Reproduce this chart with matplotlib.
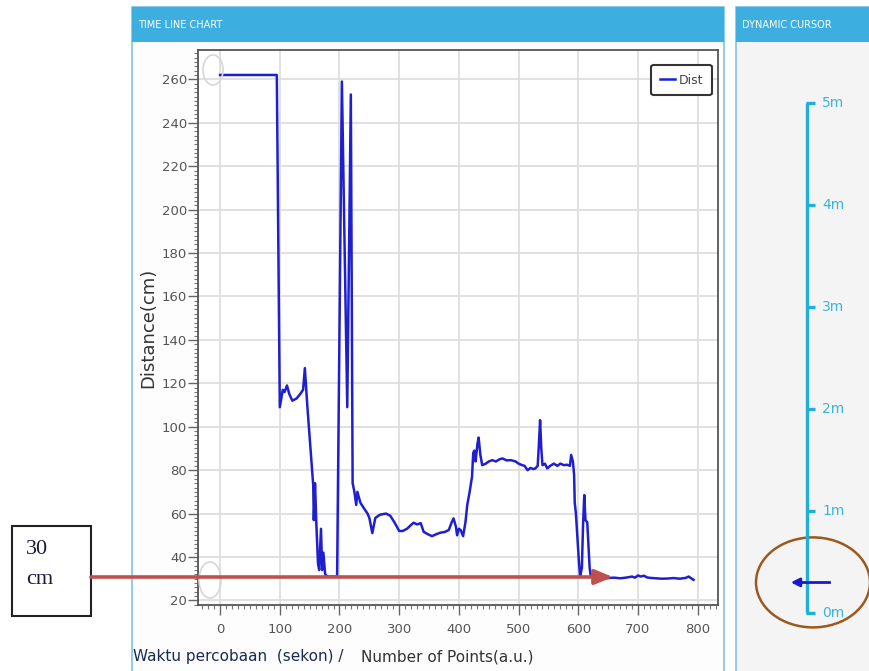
import numpy as np
import matplotlib
matplotlib.use('Agg')
import matplotlib.pyplot as plt
from matplotlib.patches import Rectangle, Ellipse
from matplotlib.ticker import MultipleLocator

## readings (point index, distance in cm)
x_points = [0, 95, 100, 105, 108, 112, 116, 121, 128, 134, 139, 142, 146, 150, 154,
            156, 157, 159, 161, 164, 166, 169, 171, 173, 176, 180, 190, 196,
            204, 213, 219, 222, 225, 228, 230, 235, 242, 247, 250, 255, 260, 268,
            278, 285, 292, 300, 306, 313, 319, 324, 330, 336, 341, 348, 355, 362,
            369, 376, 383, 388, 391, 395, 397, 400, 403, 407, 411, 414, 418, 422,
            424, 426, 428, 431, 433, 436, 439, 445, 450, 456, 462, 468, 473, 480,
            487, 495, 500, 506, 510, 515, 520, 525, 528, 532, 534, 536, 538, 540,
            544, 548, 553, 559, 565, 570, 576, 581, 586, 588, 591, 593, 594, 596,
            598, 601, 603, 606, 608, 610, 612, 615, 617, 619, 621, 630, 640, 650,
            660, 670, 680, 690, 695, 700, 705, 710, 715, 720, 730, 740, 750, 760,
            770, 780, 785, 790, 793]
dist = [262, 262, 109, 117, 116, 119, 115, 112, 113, 115, 117, 127, 110, 95, 80,
        73, 57, 74, 57, 37, 34, 53, 34, 42, 32, 31, 31, 31,
        259, 109, 253, 74, 70, 64, 70, 65, 62, 60, 58, 51, 58, 59.5,
        60, 59, 56, 52, 52, 53, 54.5, 55.8, 55, 55.6, 51.6, 50.5, 49.6, 50.5,
        51.2, 51.5, 52.4, 56, 57.8, 54, 50, 53, 52.4, 49.6, 56, 64, 70, 77,
        88, 89, 84, 92, 95, 87, 82.3, 83, 84, 84.6, 84, 85, 85.4, 84.5,
        84.6, 84, 83, 82.3, 82, 80, 81, 80.5, 80.8, 82, 92, 103, 90, 82.3,
        83, 80.8, 82, 83, 82, 83, 82.3, 82.5, 82, 87, 84, 77.7, 65, 60,
        51, 38, 31, 35, 55, 68.5, 57, 56, 45, 35, 31, 30, 30, 30.3,
        30.5, 30.2, 30.5, 31, 30.5, 31.5, 31, 31.4, 30.6, 30.4, 30.2, 30, 30.1, 30.3,
        30, 30.4, 31, 30, 29.5]

x_ticks = [0, 100, 200, 300, 400, 500, 600, 700, 800]
y_ticks = [20, 40, 60, 80, 100, 120, 140, 160, 180, 200, 220, 240, 260]

cursor_ticks = [0, 1, 2, 3, 4, 5]
cursor_labels = ["0m", "1m", "2m", "3m", "4m", "5m"]
cursor_value = 0.30   # m

linecolor = "#1f1fd0"
panelblue = "#3daee0"
cyan = "#1fb0d8"

W, H = 869, 671
fig = plt.figure(figsize=(W / 100, H / 100), dpi=100)
fig.patch.set_facecolor("white")

def px(x0, y0, x1, y1):
    # image pixel box -> figure fraction rect
    return [x0 / W, 1 - y1 / H, (x1 - x0) / W, (y1 - y0) / H]

############ panels (background) ############
bg = fig.add_axes([0, 0, 1, 1], zorder=0)
bg.set_xlim(0, W)
bg.set_ylim(H, 0)
bg.axis("off")
# left panel
bg.add_patch(Rectangle((132, 7), 592, 700, facecolor="#fdfdfd", edgecolor="#7cc4e8", lw=1.2))
bg.add_patch(Rectangle((132, 7), 592, 35, facecolor=panelblue, edgecolor="none"))
bg.text(138, 25, "TIME LINE CHART", color="white", fontsize=7, va="center", ha="left")
# right panel
bg.add_patch(Rectangle((736, 7), 140, 700, facecolor="#f4f4f4", edgecolor="#7cc4e8", lw=1.2))
bg.add_patch(Rectangle((736, 7), 140, 35, facecolor=panelblue, edgecolor="none"))
bg.text(742, 25, "DYNAMIC CURSOR", color="white", fontsize=7, va="center", ha="left")

############ time line chart ############
ax = fig.add_axes(px(198, 50, 718, 605), zorder=1)
ax.set_facecolor("white")
ax.plot(x_points, dist, color=linecolor, lw=1.8, label="Dist")
ax.set_xlim(-37, 834)
ax.set_ylim(17.9, 273.5)
ax.set_xticks(x_ticks)
ax.set_yticks(y_ticks)
ax.xaxis.set_minor_locator(MultipleLocator(10))
ax.yaxis.set_minor_locator(MultipleLocator(2))
ax.grid(True, which="major", color="#dedede", lw=1.3)
ax.set_axisbelow(True)
ax.tick_params(which="major", direction="out", length=7, width=1, color="#666666",
               labelsize=9.5, labelcolor="#555555")
ax.tick_params(which="minor", direction="out", length=3, width=0.8, color="#777777")
ax.tick_params(axis="y", pad=1)
ax.tick_params(axis="x", pad=6)
for s in ax.spines.values():
    s.set_color("#555555")
    s.set_linewidth(1.3)
ax.set_ylabel("Distance(cm)", fontsize=13, color="#333333", labelpad=3)
leg = ax.legend(loc="upper right", bbox_to_anchor=(0.988, 0.973), borderaxespad=0,
                fontsize=9, handlelength=1.2, handletextpad=0.3, borderpad=0.7,
                fancybox=True, framealpha=1, labelcolor="#444444")
leg.get_frame().set_edgecolor("#333333")
leg.get_frame().set_linewidth(1.5)

fig.text(133 / W, 1 - 657 / H, "Waktu percobaan  (sekon) /", fontsize=11,
         color="#1b2a55", ha="left", va="center")
fig.text(361 / W, 1 - 657 / H, "Number of Points(a.u.)", fontsize=11,
         color="#333333", ha="left", va="center")

############ dynamic cursor ############
cx = fig.add_axes(px(736, 42, 869, 671), zorder=1)
cx.set_facecolor("none")
cx.axis("off")
cx.set_xlim(736, 869)
cx.set_ylim(-(671 - 613) / 102, 5 + (103 - 42) / 102)
cx.plot([807, 807], [cursor_ticks[0], cursor_ticks[-1]], color=cyan, lw=2.4, solid_capstyle="butt")
for t, lab in zip(cursor_ticks, cursor_labels):
    cx.plot([806, 815], [t, t], color=cyan, lw=2.4, solid_capstyle="butt")
    cx.text(822, t, lab, color="#3ab4dc", fontsize=10, va="center", ha="left")
cx.plot([795, 829], [cursor_value, cursor_value], color="#1a1acc", lw=2)
cx.annotate("", xy=(788, cursor_value), xytext=(800, cursor_value),
            arrowprops=dict(arrowstyle="-|>,head_length=0.5,head_width=0.25",
                            color="#1a1acc", lw=2))
cx.add_patch(Ellipse((813, cursor_value), 114, 90 / 102, facecolor="none",
                     edgecolor="#9a5a1e", lw=1.8, clip_on=False))

############ annotation overlay ############
ov = fig.add_axes([0, 0, 1, 1], zorder=5)
ov.set_facecolor("none")
ov.set_xlim(0, W)
ov.set_ylim(H, 0)
ov.axis("off")
ov.add_patch(Ellipse((213, 70), 20, 30, facecolor="none", edgecolor="#d6d6d6", lw=1.2))
ov.add_patch(Ellipse((210, 580), 22, 36, facecolor="none", edgecolor="#d6d6d6", lw=1.2))
ov.add_patch(Rectangle((12, 526), 79, 90, facecolor="white", edgecolor="#222222", lw=1.5))
ov.text(26, 550, "30", fontsize=16, family="Liberation Serif", color="#1a1a3a", va="center")
ov.text(26, 580, "cm", fontsize=16, family="Liberation Serif", color="#1a1a3a", va="center")
ov.annotate("", xy=(613, 577), xytext=(91, 577),
            arrowprops=dict(arrowstyle="-|>,head_length=1.1,head_width=0.45",
                            color="#c0504d", lw=2.6, shrinkA=0, shrinkB=0))

plt.savefig("out.png", dpi=100)
